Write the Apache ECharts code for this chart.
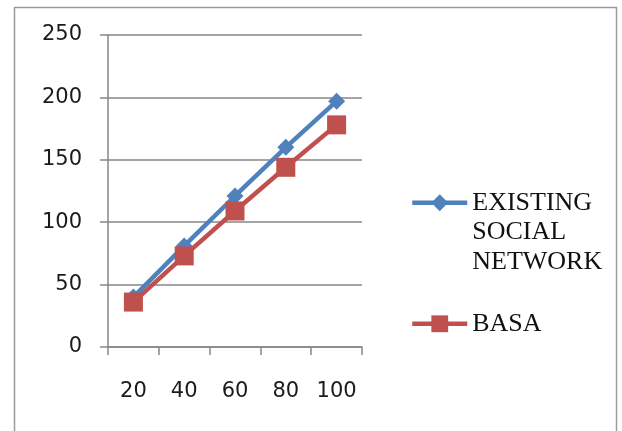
<!DOCTYPE html>
<html>
<head>
<meta charset="utf-8">
<script src="https://cdn.jsdelivr.net/npm/echarts@6/dist/echarts.min.js"></script>
<style>
html,body{margin:0;padding:0;background:#fff;}
#chart{width:622px;height:431px;}
</style>
</head>
<body>
<div id="chart"></div>
<script>
const categories = ['20', '40', '60', '80', '100'];
const existingName = 'EXISTING SOCIAL NETWORK';
const existingValues = [40, 81, 121, 160, 197];
const basaName = 'BASA';
const basaValues = [36, 73, 109, 144, 178];
const yTicks = { min: 0, max: 250, interval: 50 };

const blue = '#4F81BD';
const red = '#C0504D';
const gray = '#878787';
const labelFont = { fontFamily: 'DejaVu Sans', fontSize: 21, color: '#1a1a1a' };
const legendFont = { fontFamily: 'Liberation Serif', fontSize: 26, lineHeight: 29.5, color: '#111' };

const chart = echarts.init(document.getElementById('chart'));
chart.setOption({
  animation: false,
  backgroundColor: '#fff',
  graphic: [{
    type: 'rect',
    shape: { x: 14.5, y: 7.5, width: 602, height: 500 },
    style: { fill: 'none', stroke: '#9a9a9a', lineWidth: 1.5 },
    silent: true
  }],
  grid: { left: 108, right: 260, top: 35, bottom: 84 },
  xAxis: {
    type: 'category',
    data: categories,
    boundaryGap: true,
    axisLine: { lineStyle: { color: gray, width: 1.5 } },
    axisTick: { show: true, interval: 0, length: 8, lineStyle: { color: gray, width: 1.5 } },
    axisLabel: Object.assign({ margin: 34, interval: 0, hideOverlap: false }, labelFont),
    splitLine: { show: false }
  },
  yAxis: {
    type: 'value',
    min: yTicks.min, max: yTicks.max, interval: yTicks.interval,
    axisLine: { show: true, lineStyle: { color: gray, width: 1.5 } },
    axisTick: { show: true, length: 8, lineStyle: { color: gray, width: 1.5 } },
    axisLabel: Object.assign({ margin: 26 }, labelFont),
    splitLine: { show: true, lineStyle: { color: gray, width: 1.5 } }
  },
  legend: [{
    data: [existingName],
    orient: 'vertical',
    left: 410, top: 129,
    padding: 0,
    itemWidth: 55, itemHeight: 21, itemGap: 5,
    lineStyle: { width: 4.5 },
    formatter: n => '\n\n' + n.split(' ').join('\n'),
    textStyle: legendFont
  }, {
    data: [basaName],
    orient: 'vertical',
    left: 410, top: 309,
    padding: 0,
    itemWidth: 55, itemHeight: 21, itemGap: 5,
    lineStyle: { width: 4.5 },
    textStyle: legendFont
  }],
  series: [{
    name: existingName,
    type: 'line',
    data: existingValues,
    symbol: 'diamond',
    symbolSize: 17,
    color: blue,
    lineStyle: { color: blue, width: 4.5 },
    itemStyle: { color: blue }
  }, {
    name: basaName,
    type: 'line',
    data: basaValues,
    symbol: 'rect',
    symbolSize: 19,
    color: red,
    lineStyle: { color: red, width: 4.5 },
    itemStyle: { color: red }
  }]
});
</script>
</body>
</html>
